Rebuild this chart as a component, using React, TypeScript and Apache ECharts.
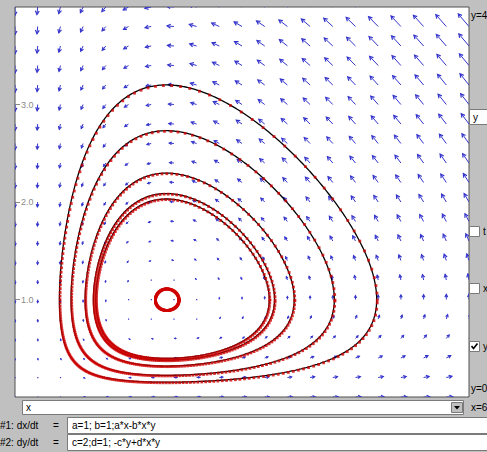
import React, { useEffect, useRef } from "react";
import * as echarts from "echarts";

// Model parameters, as shown in the equation fields
const PARAM_A = 1;
const PARAM_B = 1;
const PARAM_C = 2;
const PARAM_D = 1;

// Axis ranges (y=0..4, x=0..6 as labelled)
const X_MIN = 0;
const X_MAX = 6;
const Y_MIN = 0;
const Y_MAX = 4;
const Y_TICKS = [1, 2, 3];

// Direction-field sample positions
const FIELD_X = [0, 0.3, 0.6, 0.9, 1.2, 1.5, 1.8, 2.1, 2.4, 2.7, 3.0, 3.3, 3.6, 3.9, 4.2, 4.5, 4.8, 5.1, 5.4, 5.7, 6.0];
const FIELD_Y = [0, 0.2, 0.4, 0.6, 0.8, 1.0, 1.2, 1.4, 1.6, 1.8, 2.0, 2.2, 2.4, 2.6, 2.8, 3.0, 3.2, 3.4, 3.6, 3.8, 4.0];

// Trajectories: x where each closed orbit crosses y = 1 on its right side
const ORBIT_START_X = [2.16, 3.36, 3.43, 3.69, 4.22, 4.78];
const ORBIT_START_Y = [1, 1, 1, 1, 1, 1];

// Texts
const EQ1_LABEL = "#1: dx/dt";
const EQ2_LABEL = "#2: dy/dt";
const EQ1_TEXT = "a=1; b=1;a*x-b*x*y";
const EQ2_TEXT = "c=2;d=1; -c*y+d*x*y";

const ARROW_COLOR = "#3434cc";
const ARROW_SCALE = 2.1;
const ARROW_POWER = 0.66;
const GRAY = "#c0c0c0";
const FONT = "Liberation Sans, Arial, sans-serif";

function field(x: number, y: number): [number, number] {
  return [PARAM_A * x - PARAM_B * x * y, -PARAM_C * y + PARAM_D * x * y];
}

function integrate(x0: number, y0: number, h: number) {
  const cx = PARAM_C / PARAM_D;
  const cy = PARAM_A / PARAM_B;
  let x = x0;
  let y = y0;
  const pts: number[][] = [[x, y]];
  let prev = Math.atan2(y - cy, x - cx);
  let acc = 0;
  for (let i = 0; i < 400000; i++) {
    const k1 = field(x, y);
    const k2 = field(x + (h / 2) * k1[0], y + (h / 2) * k1[1]);
    const k3 = field(x + (h / 2) * k2[0], y + (h / 2) * k2[1]);
    const k4 = field(x + h * k3[0], y + h * k3[1]);
    x += (h / 6) * (k1[0] + 2 * k2[0] + 2 * k3[0] + k4[0]);
    y += (h / 6) * (k1[1] + 2 * k2[1] + 2 * k3[1] + k4[1]);
    pts.push([x, y]);
    const a = Math.atan2(y - cy, x - cx);
    let d = a - prev;
    if (d > Math.PI) d -= 2 * Math.PI;
    if (d < -Math.PI) d += 2 * Math.PI;
    acc += d;
    prev = a;
    if (Math.abs(acc) >= 2 * Math.PI) break;
  }
  pts.push([x0, y0]);
  return pts;
}

function textEl(text: string, x: number, y: number, size = 10, color = "#000") {
  return {
    type: "text",
    x,
    y,
    silent: true,
    style: { text, fill: color, font: `${size}px ${FONT}`, verticalAlign: "middle", align: "left" },
  };
}

function boxEl(x: number, y: number, w: number, h: number, fill = "#fff") {
  return {
    type: "rect",
    silent: true,
    shape: { x: x + 0.5, y: y + 0.5, width: w, height: h },
    style: { fill, stroke: "#7a7a7a", lineWidth: 1 },
  };
}

export default function App() {
  const ref = useRef<HTMLDivElement>(null);

  useEffect(() => {
    if (!ref.current) return;
    const chart = echarts.init(ref.current, undefined, { renderer: "svg" });

    const arrowData: number[][] = [];
    FIELD_X.forEach((x) => {
      FIELD_Y.forEach((y) => {
        const [u, v] = field(x, y);
        arrowData.push([x, y, u, v]);
      });
    });

    const STEP = 0.005;
    const DOT_EVERY = 5;
    const lineSeries: any[] = [];
    const dots: number[][] = [];
    ORBIT_START_X.forEach((x0, i) => {
      const pts = integrate(x0, ORBIT_START_Y[i], STEP);
      lineSeries.push({
        type: "line",
        data: pts,
        showSymbol: false,
        symbol: "none",
        silent: true,
        clip: true,
        z: 3,
        lineStyle: { color: "#000", width: 1.3 },
      });
      for (let k = 0; k < pts.length; k += DOT_EVERY) dots.push(pts[k]);
    });

    const option: any = {
      animation: false,
      backgroundColor: GRAY,
      grid: {
        left: 15,
        top: 7,
        width: 454,
        height: 390,
        show: true,
        backgroundColor: "#fff",
        borderColor: "#505050",
        borderWidth: 1,
      },
      xAxis: {
        type: "value",
        min: X_MIN,
        max: X_MAX,
        show: false,
      },
      yAxis: {
        type: "value",
        min: Y_MIN,
        max: Y_MAX,
        axisLine: { show: false },
        splitLine: { show: false },
        axisTick: {
          show: true,
          inside: true,
          length: 5,
          customValues: Y_TICKS,
          lineStyle: { color: "#8a8a8a" },
        },
        axisLabel: {
          inside: true,
          margin: 6,
          customValues: Y_TICKS,
          color: "#8a8a8a",
          fontSize: 9,
          fontFamily: FONT,
          formatter: (v: number) => v.toFixed(1),
        },
      },
      series: [
        {
          type: "custom",
          data: arrowData,
          silent: true,
          clip: true,
          z: 2,
          renderItem: (params: any, api: any) => {
            const x = api.value(0);
            const y = api.value(1);
            const u = api.value(2);
            const v = api.value(3);
            const p = api.coord([x, y]);
            const sz = api.size([1, 1]);
            const sx = u * sz[0];
            const sy = -v * sz[1];
            const sn = Math.hypot(sx, sy);
            const len = ARROW_SCALE * Math.pow(Math.hypot(u, v), ARROW_POWER);
            if (len < 1.6 || sn === 0) {
              return {
                type: "rect",
                shape: { x: p[0] - 0.5, y: p[1] - 0.5, width: 1.2, height: 1.2 },
                style: { fill: ARROW_COLOR },
              };
            }
            const dx = sx / sn;
            const dy = sy / sn;
            const hx = p[0] + dx * len;
            const hy = p[1] + dy * len;
            const hl = Math.min(4, len * 0.6);
            const ang = 0.5;
            const c = Math.cos(ang);
            const s = Math.sin(ang);
            const bx = -dx;
            const by = -dy;
            const l1 = [hx + hl * (bx * c - by * s), hy + hl * (bx * s + by * c)];
            const l2 = [hx + hl * (bx * c + by * s), hy + hl * (-bx * s + by * c)];
            return {
              type: "group",
              children: [
                {
                  type: "line",
                  shape: { x1: p[0], y1: p[1], x2: hx, y2: hy },
                  style: { stroke: ARROW_COLOR, lineWidth: 1 },
                },
                {
                  type: "polyline",
                  shape: { points: [l1, [hx, hy], l2] },
                  style: { stroke: ARROW_COLOR, lineWidth: 1.2, fill: null },
                },
              ],
            };
          },
        },
        ...lineSeries,
        {
          type: "scatter",
          data: dots,
          symbol: "rect",
          symbolSize: 2.8,
          symbolOffset: [0.6, 0.6],
          silent: true,
          large: false,
          clip: true,
          z: 4,
          itemStyle: { color: "#d00000" },
        },
      ],
      graphic: [
        // right-hand panel
        textEl("y=4", 471, 15),
        boxEl(469, 109, 22, 15),
        textEl("y", 473, 117),
        boxEl(469, 226, 10, 10),
        textEl("t", 483, 231),
        boxEl(469, 283, 10, 10),
        textEl("x", 483, 288),
        boxEl(469, 341, 10, 10),
        {
          type: "polyline",
          silent: true,
          shape: { points: [[471.5, 346], [473.5, 348.5], [477.5, 343.5]] },
          style: { stroke: "#000", lineWidth: 1.6, fill: null },
        },
        textEl("y", 483, 346),
        textEl("y=0", 471, 388),
        textEl("x=6", 471, 407),
        // combobox
        boxEl(22, 400, 441, 14),
        textEl("x", 26, 407.5),
        boxEl(451, 402, 11, 10, GRAY),
        {
          type: "polygon",
          silent: true,
          shape: { points: [[454, 406], [460, 406], [457, 409.5]] },
          style: { fill: "#000" },
        },
        // equation fields
        textEl(EQ1_LABEL, 0, 425),
        textEl("=", 53, 425),
        boxEl(67, 417, 425, 16),
        textEl(EQ1_TEXT, 72, 425.5),
        textEl(EQ2_LABEL, 0, 442),
        textEl("=", 53, 442),
        boxEl(67, 434, 425, 16),
        textEl(EQ2_TEXT, 72, 442.5),
      ],
    };

    chart.setOption(option);
    return () => chart.dispose();
  }, []);

  return (
    <div
      ref={ref}
      style={{ position: "fixed", left: 0, top: 0, width: 487, height: 452 }}
    />
  );
}
